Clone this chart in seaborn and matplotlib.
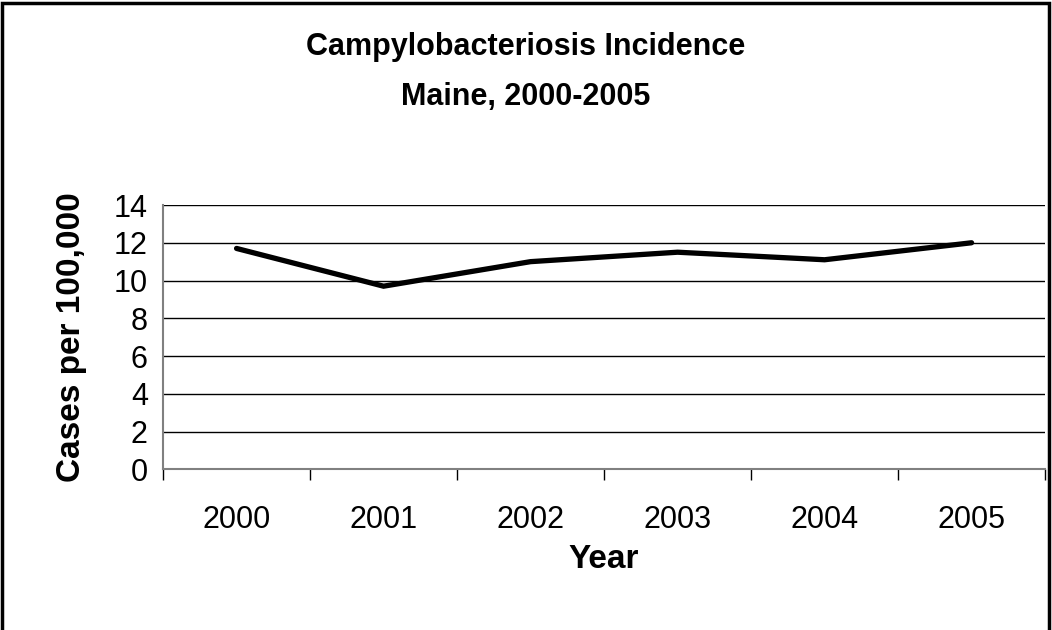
import seaborn as sns
import pandas as pd
from matplotlib import pyplot as plt
from matplotlib.patches import Rectangle

# values
years = ['2000', '2001', '2002', '2003', '2004', '2005']
rates = [11.7, 9.7, 11.0, 11.5, 11.1, 12.0]
y_ticks = [0, 2, 4, 6, 8, 10, 12, 14]

df = pd.DataFrame({'Year': years, 'Rate': rates})

sns.set_style('white')
plt.rcParams['font.family'] = ['Liberation Sans', 'DejaVu Sans']
plt.rcParams['text.color'] = 'black'
plt.rcParams['axes.labelcolor'] = 'black'
plt.rcParams['xtick.color'] = 'black'
plt.rcParams['ytick.color'] = 'black'

fig = plt.figure(figsize=(10.52, 6.30), dpi=100)
ax = fig.add_axes([0.155, 0.255, 0.8384, 0.4196])

x_pos = list(range(len(years)))
sns.lineplot(x=x_pos, y=df['Rate'], ax=ax, color='black', linewidth=3.8,
             solid_joinstyle='miter', solid_capstyle='round')

ax.set_xlim(-0.5, len(years) - 0.5)
ax.set_ylim(0, 14)
ax.set_yticks(y_ticks)
ax.set_yticklabels([str(v) for v in y_ticks], fontsize=22)
ax.set_xticks(x_pos)
ax.set_xticklabels(years, fontsize=22)
ax.set_xticks([i - 0.5 for i in range(len(years) + 1)], minor=True)
ax.tick_params(axis='x', which='major', length=0, pad=26)
ax.tick_params(axis='x', which='minor', length=8, width=1, color='black',
               direction='out', bottom=True)
ax.tick_params(axis='y', which='major', length=8, width=1, color='#808080',
               direction='out', pad=3)

ax.grid(axis='y', color='black', linewidth=1)
ax.set_axisbelow(True)
for side in ['top', 'right']:
    ax.spines[side].set_visible(False)
for side in ['left', 'bottom']:
    ax.spines[side].set_color('#808080')
    ax.spines[side].set_linewidth(1.5)

ax.set_xlabel('Year', fontsize=24, fontweight='bold', labelpad=6)
ax.set_ylabel('Cases per 100,000', fontsize=24, fontweight='bold', labelpad=19)

fig.text(0.5, 0.926, 'Campylobacteriosis Incidence', ha='center', va='center',
         fontsize=22, fontweight='bold')
fig.text(0.5, 0.846, 'Maine, 2000-2005', ha='center', va='center',
         fontsize=22, fontweight='bold')

fig.patches.append(Rectangle((0.002, -0.1), 0.995, 1.096, transform=fig.transFigure,
                             fill=False, edgecolor='black', linewidth=2.5))

fig.savefig('out.png', dpi=100)
